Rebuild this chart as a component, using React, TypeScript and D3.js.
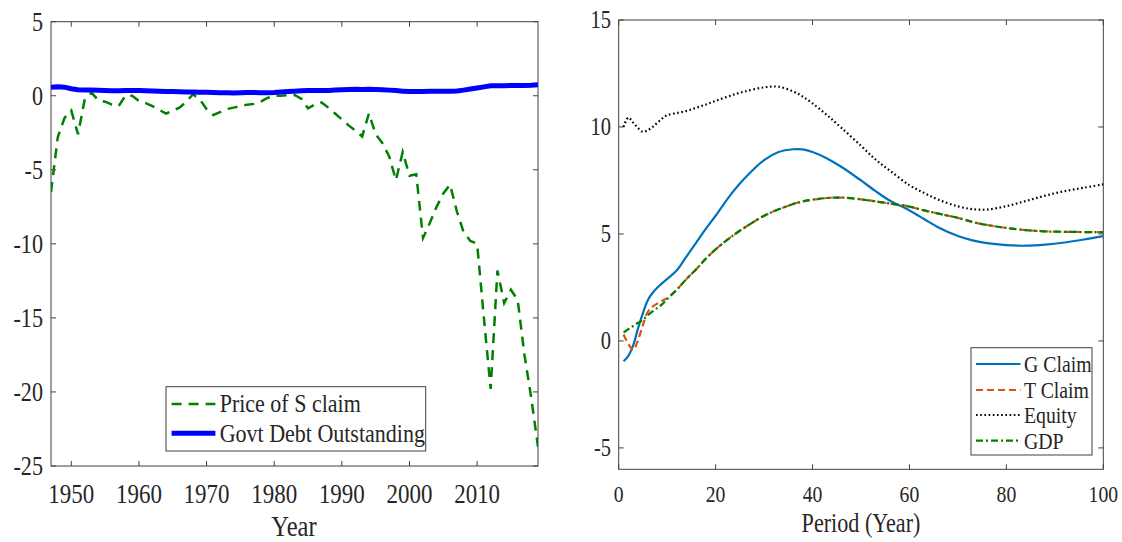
import React from "react";
import * as d3 from "d3";

// ---------- Left panel data ----------
const years = d3.range(1947, 2020);
const priceSClaim = [
  -6.5, -2.8, -1.5, -1.0, -2.6, -0.2, 0.2, -0.3, -0.4, -0.6,
  -0.7, 0.0, 0.0, -0.35, -0.5, -0.7, -0.95, -1.2, -1.0, -0.8,
  -0.4, 0.1, -0.25, -0.9, -1.3, -1.1, -0.9, -0.8, -0.7, -0.6,
  -0.55, -0.4, -0.15, 0.0, 0.0, 0.05, 0.05, -0.2, -0.85, -0.6,
  -0.45, -0.8, -1.2, -1.6, -2.0, -2.35, -2.75, -1.2, -2.6, -3.2,
  -4.1, -5.7, -3.8, -5.4, -5.3, -9.6, -8.6, -7.5, -6.6, -6.0,
  -7.8, -9.2, -9.8, -10.0, -15.0, -19.8, -11.8, -14.0, -13.1, -13.8,
  -17.5, -20.4, -23.7,
];
const govtDebt = [
  0.57, 0.6, 0.58, 0.47, 0.4, 0.38, 0.38, 0.37, 0.35, 0.34,
  0.34, 0.35, 0.35, 0.35, 0.34, 0.32, 0.31, 0.29, 0.28, 0.27,
  0.26, 0.25, 0.24, 0.23, 0.22, 0.21, 0.2, 0.19, 0.21, 0.22,
  0.22, 0.21, 0.21, 0.22, 0.25, 0.28, 0.3, 0.33, 0.35, 0.36,
  0.35, 0.36, 0.38, 0.41, 0.43, 0.44, 0.43, 0.44, 0.42, 0.41,
  0.38, 0.35, 0.31, 0.28, 0.28, 0.29, 0.3, 0.31, 0.3, 0.3,
  0.32, 0.38, 0.45, 0.52, 0.6, 0.68, 0.68, 0.68, 0.69, 0.7,
  0.7, 0.71, 0.75,
];
const leftXTicks = [1950, 1960, 1970, 1980, 1990, 2000, 2010];
const leftYTicks = [5, 0, -5, -10, -15, -20, -25];

// ---------- Right panel data ----------
const periods = [1, 2, 3, 4, 5, 6, 7, 8, 9, 10, 12, 14, 16, 18, 20, 23, 26, 30, 33, 36, 38, 40, 43, 46, 50, 53, 56, 60, 63, 66, 70, 73, 76, 80, 84, 88, 92, 96, 100];
const gClaim = [-0.95, -0.7, -0.2, 0.6, 1.3, 1.9, 2.25, 2.5, 2.7, 2.9, 3.3, 3.95, 4.6, 5.25, 5.85, 6.8, 7.6, 8.45, 8.83, 8.96, 8.95, 8.83, 8.53, 8.13, 7.5, 7.0, 6.55, 6.1, 5.7, 5.3, 4.9, 4.7, 4.57, 4.48, 4.45, 4.5, 4.6, 4.74, 4.9];
const tClaim = [0.3, -0.15, -0.42, 0.05, 0.75, 1.35, 1.6, 1.75, 1.88, 2.0, 2.4, 2.9, 3.35, 3.85, 4.28, 4.83, 5.3, 5.85, 6.15, 6.4, 6.52, 6.6, 6.68, 6.7, 6.62, 6.52, 6.42, 6.28, 6.1, 5.95, 5.75, 5.56, 5.42, 5.28, 5.18, 5.12, 5.1, 5.09, 5.08];
const equity = [10.0, 10.44, 10.2, 9.95, 9.77, 9.85, 10.0, 10.2, 10.4, 10.55, 10.65, 10.75, 10.9, 11.05, 11.22, 11.46, 11.66, 11.85, 11.88, 11.66, 11.42, 11.1, 10.55, 9.95, 9.12, 8.48, 7.95, 7.28, 6.92, 6.6, 6.29, 6.16, 6.14, 6.3, 6.54, 6.79, 7.0, 7.16, 7.32];
const gdp = [0.4, 0.55, 0.7, 0.85, 0.98, 1.2, 1.38, 1.55, 1.72, 1.95, 2.4, 2.9, 3.35, 3.85, 4.28, 4.83, 5.3, 5.85, 6.15, 6.4, 6.52, 6.6, 6.68, 6.7, 6.62, 6.52, 6.42, 6.28, 6.1, 5.95, 5.75, 5.56, 5.42, 5.28, 5.18, 5.12, 5.1, 5.09, 5.08];
const rightXTicks = [0, 20, 40, 60, 80, 100];
const rightYTicks = [15, 10, 5, 0, -5];

const FONT = "'Liberation Serif', 'Times New Roman', serif";
const TXT = "#262626";
const AX = "#404040";

function T({ x, y, size, anchor = "middle", sx = 0.82, children }: any) {
  return (
    <text
      transform={`translate(${x},${y}) scale(${sx},1)`}
      fontFamily={FONT}
      fontSize={size}
      fill={TXT}
      textAnchor={anchor}
    >
      {children}
    </text>
  );
}

export default function App() {
  // Left scales
  const lx = d3.scaleLinear().domain([1947, 2019]).range([51, 538]);
  const ly = d3.scaleLinear().domain([-25, 5]).range([466, 21.7]);
  // Right scales
  const rx = d3.scaleLinear().domain([0, 100]).range([618.7, 1103.3]);
  const ry = d3.scaleLinear().domain([-6, 15]).range([469.3, 20]);

  const lineL = (vals: number[]) =>
    d3
      .line<number>()
      .x((_, i) => lx(years[i]))
      .y((d) => ly(d))(vals) || "";
  const lineR = (vals: number[]) =>
    d3
      .line<number>()
      .x((_, i) => rx(periods[i]))
      .y((d) => ry(d))
      .curve(d3.curveCatmullRom.alpha(0.5))(vals) || "";

  const tick = 5;

  const [lx0, lx1] = lx.range();
  const [ly0, ly1] = [ly(-25), ly(5)];
  const [rx0, rx1] = rx.range();
  const [ry0, ry1] = [ry(-6), ry(15)];

  return (
    <svg
      width={1122}
      height={542}
      style={{ position: "absolute", left: 0, top: 0, background: "#fff" }}
    >
      <defs>
        <clipPath id="clipL">
          <rect x={lx0} y={ly1} width={lx1 - lx0} height={ly0 - ly1} />
        </clipPath>
        <clipPath id="clipR">
          <rect x={rx0} y={ry1} width={rx1 - rx0} height={ry0 - ry1} />
        </clipPath>
      </defs>

      {/* ---------- LEFT PANEL ---------- */}
      <g>
        <rect x={lx0} y={ly1} width={lx1 - lx0} height={ly0 - ly1} fill="#fff" stroke={AX} strokeWidth={1} />
        {leftXTicks.map((t) => (
          <g key={"lxt" + t}>
            <line x1={lx(t)} x2={lx(t)} y1={ly0} y2={ly0 - tick} stroke={AX} />
            <line x1={lx(t)} x2={lx(t)} y1={ly1} y2={ly1 + tick} stroke={AX} />
            <T x={lx(t)} y={503} size={28}>{String(t)}</T>
          </g>
        ))}
        {leftYTicks.map((t) => (
          <g key={"lyt" + t}>
            <line x1={lx0} x2={lx0 + tick} y1={ly(t)} y2={ly(t)} stroke={AX} />
            <line x1={lx1} x2={lx1 - tick} y1={ly(t)} y2={ly(t)} stroke={AX} />
            <T x={43} y={ly(t) + 9} size={27} anchor="end">{String(t).replace("−", "-")}</T>
          </g>
        ))}
        <g clipPath="url(#clipL)">
          <path d={lineL(priceSClaim)} fill="none" stroke="#008000" strokeWidth={2.5} strokeDasharray="10,7" />
          <path d={lineL(govtDebt)} fill="none" stroke="#0000FF" strokeWidth={5} />
        </g>
        <T x={294} y={536} size={30}>Year</T>

        {/* legend */}
        <rect x={166} y={386.7} width={259.7} height={64.3} fill="#fff" stroke={AX} strokeWidth={1} />
        <line x1={171.6} x2={215.4} y1={404} y2={404} stroke="#008000" strokeWidth={2.5} strokeDasharray="10,7" />
        <T x={219.7} y={412} size={25} anchor="start" sx={0.88}>Price of S claim</T>
        <line x1={171.6} x2={215.4} y1={433.3} y2={433.3} stroke="#0000FF" strokeWidth={5} />
        <T x={219.7} y={441.5} size={25} anchor="start" sx={0.88}>Govt Debt Outstanding</T>
      </g>

      {/* ---------- RIGHT PANEL ---------- */}
      <g>
        <rect x={rx0} y={ry1} width={rx1 - rx0} height={ry0 - ry1} fill="#fff" stroke={AX} strokeWidth={1} />
        {rightXTicks.map((t) => (
          <g key={"rxt" + t}>
            <line x1={rx(t)} x2={rx(t)} y1={ry0} y2={ry0 - tick} stroke={AX} />
            <line x1={rx(t)} x2={rx(t)} y1={ry1} y2={ry1 + tick} stroke={AX} />
            <T x={rx(t)} y={502} size={24}>{String(t)}</T>
          </g>
        ))}
        {rightYTicks.map((t) => (
          <g key={"ryt" + t}>
            <line x1={rx0} x2={rx0 + tick} y1={ry(t)} y2={ry(t)} stroke={AX} />
            <line x1={rx1} x2={rx1 - tick} y1={ry(t)} y2={ry(t)} stroke={AX} />
            <T x={611} y={ry(t) + 8} size={25} anchor="end">{String(t)}</T>
          </g>
        ))}
        <g clipPath="url(#clipR)">
          <path d={lineR(equity)} fill="none" stroke="#000" strokeWidth={2.2} strokeDasharray="1.6,2.6" />
          <path d={lineR(gClaim)} fill="none" stroke="#0072BD" strokeWidth={2.2} />
          <path d={lineR(tClaim)} fill="none" stroke="#D95319" strokeWidth={2.2} strokeDasharray="7,4" />
          <path d={lineR(gdp)} fill="none" stroke="#008000" strokeWidth={2.2} strokeDasharray="7,3,2,3" />
        </g>
        <T x={861} y={532} size={27}>Period (Year)</T>

        {/* legend */}
        <rect x={971} y={347.7} width={121} height={107.3} fill="#fff" stroke={AX} strokeWidth={1} />
        <line x1={976} x2={1020.5} y1={364} y2={364} stroke="#0072BD" strokeWidth={2.2} />
        <T x={1024} y={372} size={23} anchor="start" sx={0.86}>G Claim</T>
        <line x1={976} x2={1020.5} y1={390} y2={390} stroke="#D95319" strokeWidth={2.2} strokeDasharray="7,4" />
        <T x={1024} y={398} size={23} anchor="start" sx={0.86}>T Claim</T>
        <line x1={976} x2={1020.5} y1={415} y2={415} stroke="#000" strokeWidth={2.2} strokeDasharray="1.6,2.6" />
        <T x={1024} y={423} size={23} anchor="start" sx={0.86}>Equity</T>
        <line x1={976} x2={1020.5} y1={440.7} y2={440.7} stroke="#008000" strokeWidth={2.2} strokeDasharray="7,3,2,3" />
        <T x={1024} y={448.7} size={23} anchor="start" sx={0.86}>GDP</T>
      </g>
    </svg>
  );
}
